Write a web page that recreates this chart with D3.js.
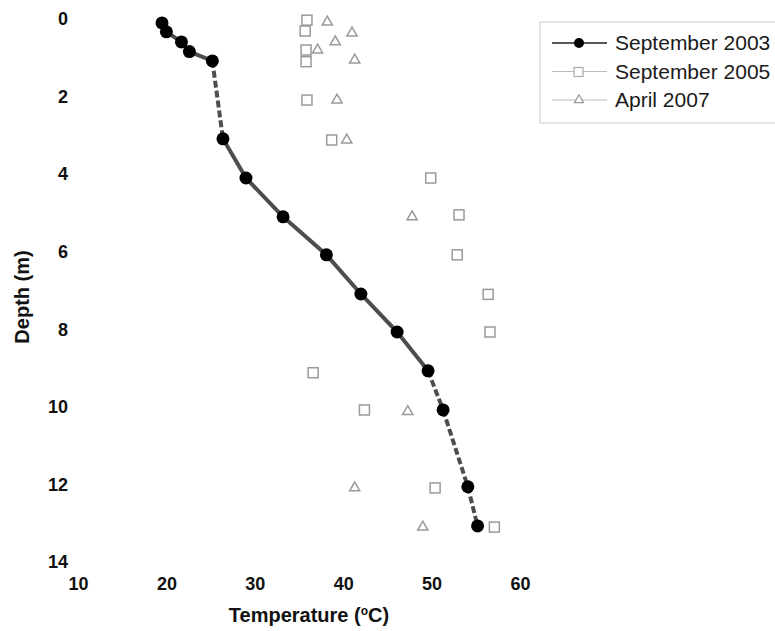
<!DOCTYPE html>
<html>
<head>
    <meta charset="utf-8">
    <title>Temperature vs Depth</title>
    <script src="https://d3js.org/d3.v7.min.js"></script>
    <style>
        body { margin: 0; background: #fff; }
    </style>
</head>
<body>
    <div id="chart"></div>
    <script>

        // September 2003 profile
        var depth2003 = [0.1, 0.33, 0.59, 0.84, 1.08, 3.09, 4.1, 5.1, 6.08, 7.09, 8.07, 9.07, 10.08, 12.06, 13.07];
        var temp2003 = [19.5, 20.0, 21.7, 22.6, 25.2, 26.4, 29.0, 33.2, 38.1, 42.0, 46.1, 49.6, 51.3, 54.1, 55.2];

        // September 2005 profile
        var depth2005 = [0.03, 0.31, 0.8, 1.1, 2.09, 3.12, 4.1, 5.05, 6.08, 7.1, 8.07, 9.12, 10.08, 12.09, 13.1];
        var temp2005 = [35.9, 35.7, 35.8, 35.8, 35.9, 38.7, 49.9, 53.1, 52.9, 56.4, 56.6, 36.6, 42.4, 50.4, 57.1];

        // April 2007 profile
        var depth2007 = [0.08, 0.36, 0.59, 0.8, 1.06, 2.09, 3.12, 5.1, 10.12, 12.09, 13.1];
        var temp2007 = [38.2, 41.0, 39.1, 37.1, 41.3, 39.3, 40.4, 47.8, 47.3, 41.3, 49.0];

        var xTicks = [10, 20, 30, 40, 50, 60];
        var yTicks = [0, 2, 4, 6, 8, 10, 12, 14];
        var seriesNames = ["September 2003", "September 2005", "April 2007"];

        var width = 775, height = 631;

        var svg = d3.select("#chart")
            .append("svg")
            .attr("width", width)
            .attr("height", height);

        var xScale = d3.scaleLinear().domain([10, 60]).range([78, 520]);
        var yScale = d3.scaleLinear().domain([0, 14]).range([19, 562]);

        var tickFont = "'Liberation Sans', Arial, sans-serif";

        // axes: labels only, no lines
        var xAxis = svg.append("g")
            .attr("transform", "translate(0, 577)")
            .call(d3.axisBottom(xScale).tickValues(xTicks).tickSize(0).tickPadding(0));
        xAxis.select(".domain").remove();
        xAxis.selectAll("text")
            .attr("dy", "0.71em")
            .style("font-family", tickFont)
            .style("font-weight", "bold")
            .style("font-size", "18px")
            .style("fill", "#111");

        var yAxis = svg.append("g")
            .attr("transform", "translate(68, 0)")
            .call(d3.axisLeft(yScale).tickValues(yTicks).tickSize(0).tickPadding(0));
        yAxis.select(".domain").remove();
        yAxis.selectAll("text")
            .style("font-family", tickFont)
            .style("font-weight", "bold")
            .style("font-size", "18px")
            .style("fill", "#111");

        // axis titles
        var xTitle = svg.append("text")
            .attr("x", 309)
            .attr("y", 622)
            .attr("text-anchor", "middle")
            .style("font-family", tickFont)
            .style("font-weight", "bold")
            .style("font-size", "20px")
            .style("fill", "#111");
        xTitle.append("tspan").text("Temperature (");
        xTitle.append("tspan").attr("dy", -7).style("font-size", "12px").text("o");
        xTitle.append("tspan").attr("dy", 7).text("C)");

        svg.append("text")
            .attr("transform", "translate(29, 297) rotate(-90)")
            .attr("text-anchor", "middle")
            .style("font-family", tickFont)
            .style("font-weight", "bold")
            .style("font-size", "20px")
            .style("fill", "#111")
            .text("Depth (m)");

        // September 2003 line, drawn segment by segment
        var pts2003 = depth2003.map(function(d, i) { return [xScale(temp2003[i]), yScale(d)]; });
        var segs = d3.pairs(pts2003);
        svg.append("g").selectAll("line")
            .data(segs)
            .join("line")
            .attr("x1", function(d) { return d[0][0]; })
            .attr("y1", function(d) { return d[0][1]; })
            .attr("x2", function(d) { return d[1][0]; })
            .attr("y2", function(d) { return d[1][1]; })
            .attr("stroke", "#4d4d4d")
            .attr("stroke-width", 4)
            .attr("stroke-dasharray", function(d) {
                var dx = Math.abs(d[1][0] - d[0][0]), dy = Math.abs(d[1][1] - d[0][1]);
                return dx / dy < 0.5 ? "7,3" : null;
            });

        // September 2005 squares
        svg.append("g").selectAll("rect")
            .data(depth2005)
            .join("rect")
            .attr("x", function(d, i) { return xScale(temp2005[i]) - 5; })
            .attr("y", function(d) { return yScale(d) - 5; })
            .attr("width", 10)
            .attr("height", 10)
            .attr("fill", "none")
            .attr("stroke", "#9a9a9a")
            .attr("stroke-width", 1.5);

        // April 2007 triangles
        var tri = d3.symbol().type(d3.symbolTriangle).size(45);
        svg.append("g").selectAll("path")
            .data(depth2007)
            .join("path")
            .attr("d", tri)
            .attr("transform", function(d, i) { return "translate(" + xScale(temp2007[i]) + "," + yScale(d) + ")"; })
            .attr("fill", "none")
            .attr("stroke", "#9a9a9a")
            .attr("stroke-width", 1.5);

        // September 2003 dots
        svg.append("g").selectAll("circle")
            .data(depth2003)
            .join("circle")
            .attr("cx", function(d, i) { return xScale(temp2003[i]); })
            .attr("cy", function(d) { return yScale(d); })
            .attr("r", 6.5)
            .attr("fill", "#000");

        // legend
        var legend = svg.append("g").attr("transform", "translate(540, 22)");
        legend.append("rect")
            .attr("x", 0).attr("y", 0)
            .attr("width", 250).attr("height", 101)
            .attr("fill", "#fff")
            .attr("stroke", "#dcdcdc")
            .attr("stroke-width", 1.5);

        var rows = legend.selectAll("g.row")
            .data(seriesNames)
            .join("g")
            .attr("class", "row")
            .attr("transform", function(d, i) { return "translate(0," + (21 + i * 28.5) + ")"; });

        rows.append("line")
            .attr("x1", 12).attr("x2", 67)
            .attr("stroke", function(d, i) { return i === 0 ? "#222" : "#bbb"; })
            .attr("stroke-width", function(d, i) { return i === 0 ? 1.5 : 1.2; });

        rows.each(function(d, i) {
            var g = d3.select(this);
            if (i === 0) {
                g.append("circle").attr("cx", 39).attr("r", 5).attr("fill", "#000");
            } else if (i === 1) {
                g.append("rect").attr("x", 34).attr("y", -4).attr("width", 9).attr("height", 9)
                    .attr("fill", "#fff").attr("stroke", "#aaa").attr("stroke-width", 1.2);
            } else {
                g.append("path").attr("d", d3.symbol().type(d3.symbolTriangle).size(35))
                    .attr("transform", "translate(39,0)")
                    .attr("fill", "#fff").attr("stroke", "#999").attr("stroke-width", 1.2);
            }
        });

        rows.append("text")
            .attr("x", 75)
            .attr("dy", "0.35em")
            .style("font-family", tickFont)
            .style("font-size", "21px")
            .style("fill", "#1a1a1a")
            .text(function(d) { return d; });

    </script>
</body>
</html>
